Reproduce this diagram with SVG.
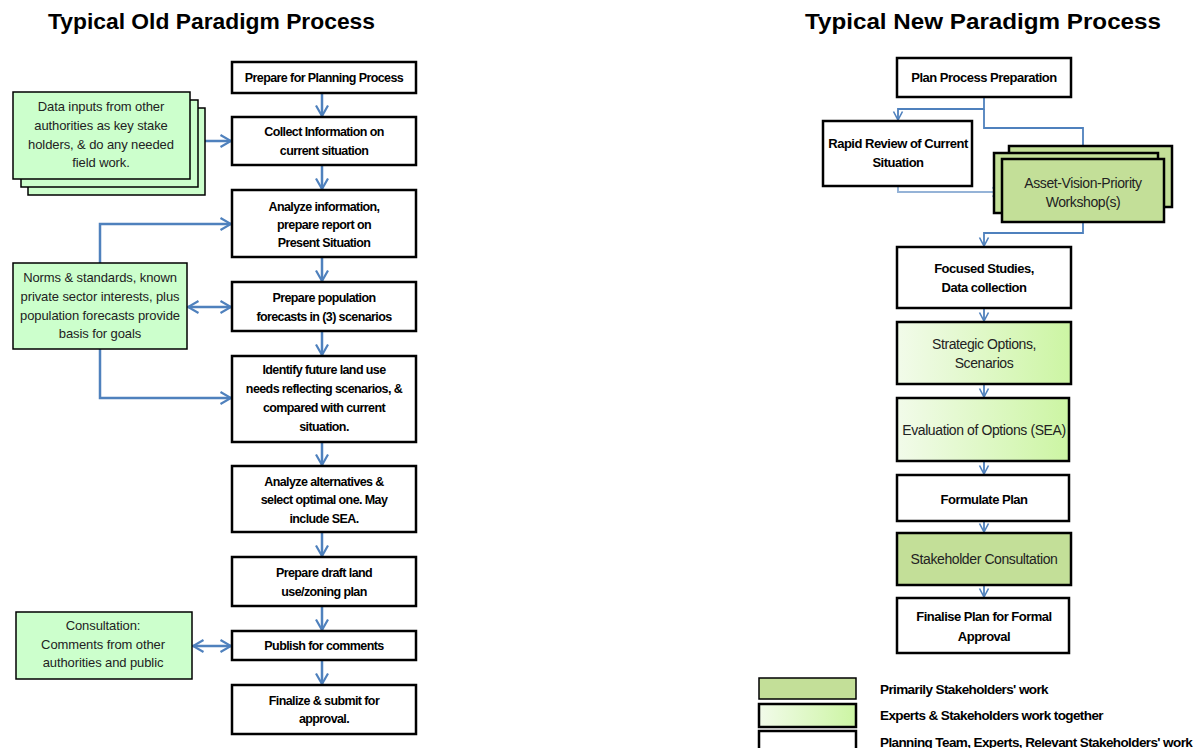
<svg xmlns="http://www.w3.org/2000/svg" width="1199" height="748" viewBox="0 0 1199 748">
<style>
.bg{fill:#ffffff}
.box{fill:#ffffff;stroke:#000000;stroke-width:2.5}
.gbox{fill:#ccffcc;stroke:#000000;stroke-width:1.5}
.mg{fill:#c3df98;stroke:#000000;stroke-width:2.5}
.grad{fill:url(#lg);stroke:#000000;stroke-width:2.5}
.title{font-family:"Liberation Sans",Arial,sans-serif;font-weight:bold;font-size:22px;fill:#000}
.lt{font-family:"Liberation Sans",Arial,sans-serif;font-size:12.5px;fill:#000;text-anchor:middle;font-weight:bold;letter-spacing:-0.6px}
.lg{font-family:"Liberation Sans",Arial,sans-serif;font-size:13px;fill:#222;text-anchor:middle;letter-spacing:-0.1px}
.rt{font-family:"Liberation Sans",Arial,sans-serif;font-size:13px;fill:#000;text-anchor:middle;font-weight:bold;letter-spacing:-0.5px}
.rg{font-family:"Liberation Sans",Arial,sans-serif;font-size:14px;fill:#222;text-anchor:middle;letter-spacing:-0.4px}
.leg{font-family:"Liberation Sans",Arial,sans-serif;font-size:13.5px;fill:#000;font-weight:bold;letter-spacing:-0.6px}
.c{fill:none;stroke:#4f81bd;stroke-width:2.5}
.c2{fill:none;stroke:#4f81bd;stroke-width:1.8}
.c3{fill:none;stroke:#95b3d7;stroke-width:2}
</style>
<defs>
<linearGradient id="lg" x1="0" y1="0" x2="1" y2="0">
<stop offset="0" stop-color="#f2fbea"/>
<stop offset="1" stop-color="#ccf5a3"/>
</linearGradient>
<marker id="ah" markerWidth="14" markerHeight="14" refX="12" refY="7" orient="auto-start-reverse" markerUnits="userSpaceOnUse">
<path d="M1.5,1 L12,7 L1.5,13" fill="none" stroke="#4f81bd" stroke-width="2.2"/>
</marker>
<marker id="ah2" markerWidth="12" markerHeight="12" refX="10" refY="6" orient="auto-start-reverse" markerUnits="userSpaceOnUse">
<path d="M1.5,1.5 L10,6 L1.5,10.5" fill="none" stroke="#4f81bd" stroke-width="1.6"/>
</marker>
</defs>
<rect class="bg" x="0" y="0" width="1199" height="748"/>

<text class="title" x="48" y="29" textLength="327" lengthAdjust="spacingAndGlyphs">Typical Old Paradigm Process</text>
<text class="title" x="805" y="29" textLength="356" lengthAdjust="spacingAndGlyphs">Typical New Paradigm Process</text>

<g id="connectors">
<line class="c" x1="322" y1="93" x2="322" y2="116" marker-end="url(#ah)"/>
<line class="c" x1="322" y1="165" x2="322" y2="189" marker-end="url(#ah)"/>
<line class="c" x1="322" y1="257" x2="322" y2="281" marker-end="url(#ah)"/>
<line class="c" x1="322" y1="331" x2="322" y2="355" marker-end="url(#ah)"/>
<line class="c" x1="322" y1="442" x2="322" y2="465" marker-end="url(#ah)"/>
<line class="c" x1="322" y1="532" x2="322" y2="556" marker-end="url(#ah)"/>
<line class="c" x1="322" y1="606" x2="322" y2="630" marker-end="url(#ah)"/>
<line class="c" x1="322" y1="660" x2="322" y2="684" marker-end="url(#ah)"/>
<line class="c" x1="197" y1="141" x2="231" y2="141" marker-end="url(#ah)"/>
<polyline class="c" points="100,263 100,224 231,224" marker-end="url(#ah)"/>
<polyline class="c" points="100,349 100,398 231,398" marker-end="url(#ah)"/>
<line class="c" x1="188" y1="307" x2="231" y2="307" marker-start="url(#ah)" marker-end="url(#ah)"/>
<line class="c" x1="193" y1="646" x2="231" y2="646" marker-start="url(#ah)" marker-end="url(#ah)"/>

<polyline class="c2" points="984,97 984,109 898,109 898,120" marker-end="url(#ah2)"/>
<polyline class="c2" points="984,109 984,128 1083,128 1083,158" marker-end="url(#ah2)"/>
<polyline class="c3" points="898,186 898,192 1001,192" marker-end="url(#ah2)"/>
<polyline class="c2" points="1083,222 1083,233 984,233 984,246" marker-end="url(#ah2)"/>
<line class="c2" x1="984" y1="308" x2="984" y2="321" marker-end="url(#ah2)"/>
<line class="c2" x1="984" y1="384" x2="984" y2="397" marker-end="url(#ah2)"/>
<line class="c2" x1="984" y1="461" x2="984" y2="474" marker-end="url(#ah2)"/>
<line class="c2" x1="984" y1="521" x2="984" y2="532" marker-end="url(#ah2)"/>
<line class="c2" x1="984" y1="585" x2="984" y2="597" marker-end="url(#ah2)"/>
</g>

<g id="old1"><rect class="box" x="232" y="62" width="184" height="31"/>
<text class="lt" x="324" y="82">Prepare for Planning Process</text></g>
<g id="old2"><rect class="box" x="232" y="117" width="184" height="48"/>
<text class="lt" x="324" y="136">Collect Information on</text><text class="lt" x="324" y="155">current situation</text></g>
<g id="old3"><rect class="box" x="232" y="190" width="184" height="67"/>
<text class="lt" x="324" y="211">Analyze information,</text><text class="lt" x="324" y="229">prepare report on</text><text class="lt" x="324" y="247">Present Situation</text></g>
<g id="old4"><rect class="box" x="232" y="282" width="184" height="49"/>
<text class="lt" x="324" y="302">Prepare population</text><text class="lt" x="324" y="321">forecasts in (3) scenarios</text></g>
<g id="old5"><rect class="box" x="232" y="356" width="184" height="86"/>
<text class="lt" x="324" y="374">Identify future land use</text><text class="lt" x="324" y="393">needs reflecting scenarios, &amp;</text><text class="lt" x="324" y="412">compared with current</text><text class="lt" x="324" y="431">situation.</text></g>
<g id="old6"><rect class="box" x="232" y="466" width="184" height="66"/>
<text class="lt" x="324" y="486">Analyze alternatives &amp;</text><text class="lt" x="324" y="504">select optimal one. May</text><text class="lt" x="324" y="523">include SEA.</text></g>
<g id="old7"><rect class="box" x="232" y="557" width="184" height="49"/>
<text class="lt" x="324" y="577">Prepare draft land</text><text class="lt" x="324" y="596">use/zoning plan</text></g>
<g id="old8"><rect class="box" x="232" y="631" width="184" height="29"/>
<text class="lt" x="324" y="650">Publish for comments</text></g>
<g id="old9"><rect class="box" x="232" y="685" width="184" height="49"/>
<text class="lt" x="324" y="705">Finalize &amp; submit for</text><text class="lt" x="324" y="723">approval.</text></g>

<g id="data-inputs">
<rect class="gbox" x="28" y="108" width="177" height="87"/>
<rect class="gbox" x="21" y="100" width="177" height="87"/>
<rect class="gbox" x="13" y="92" width="177" height="87"/>
<text class="lg" x="101" y="111">Data inputs from other</text><text class="lg" x="101" y="130">authorities as key stake</text><text class="lg" x="101" y="149">holders, &amp; do any needed</text><text class="lg" x="101" y="167">field work.</text></g>
<g id="norms"><rect class="gbox" x="13" y="263" width="174" height="86"/>
<text class="lg" x="100" y="282">Norms &amp; standards, known</text><text class="lg" x="100" y="301">private sector interests, plus</text><text class="lg" x="100" y="320">population forecasts provide</text><text class="lg" x="100" y="338">basis for goals</text></g>
<g id="consultation"><rect class="gbox" x="16" y="612" width="176" height="67"/>
<text class="lg" x="103" y="630">Consultation:</text><text class="lg" x="103" y="649">Comments from other</text><text class="lg" x="103" y="667">authorities and public</text></g>

<g id="new1"><rect class="box" x="897" y="58" width="174" height="39"/>
<text class="rt" x="984" y="82">Plan Process Preparation</text></g>
<g id="new2"><rect class="box" x="823" y="121" width="149" height="65"/>
<text class="rt" x="898" y="148">Rapid Review of Current</text><text class="rt" x="898" y="167">Situation</text></g>
<g id="new3">
<rect class="mg" x="1009" y="146" width="163" height="61"/>
<rect class="mg" x="994" y="153" width="164" height="60"/>
<rect class="mg" x="1002" y="159" width="162" height="63"/>
<text class="rg" x="1083" y="188">Asset-Vision-Priority</text><text class="rg" x="1083" y="207">Workshop(s)</text></g>
<g id="new4"><rect class="box" x="897" y="247" width="174" height="61"/>
<text class="rt" x="984" y="273">Focused Studies,</text><text class="rt" x="984" y="292">Data collection</text></g>
<g id="new5"><rect class="grad" x="897" y="322" width="174" height="62"/>
<text class="rg" x="984" y="349">Strategic Options,</text><text class="rg" x="984" y="368">Scenarios</text></g>
<g id="new6"><rect class="grad" x="897" y="398" width="172" height="63"/>
<text class="rg" x="984" y="435">Evaluation of Options (SEA)</text></g>
<g id="new7"><rect class="box" x="897" y="475" width="172" height="46"/>
<text class="rt" x="984" y="504">Formulate Plan</text></g>
<g id="new8"><rect class="mg" x="897" y="533" width="174" height="52"/>
<text class="rg" x="984" y="564">Stakeholder Consultation</text></g>
<g id="new9"><rect class="box" x="897" y="598" width="172" height="55"/>
<text class="rt" x="984" y="621">Finalise Plan for Formal</text><text class="rt" x="984" y="641">Approval</text></g>

<g id="legend">
<rect class="mg" x="759" y="678" width="97" height="21" style="stroke-width:1.5"/>
<rect class="grad" x="759" y="704" width="97" height="23"/>
<rect class="box" x="759" y="731" width="97" height="25"/>
<text class="leg" x="880" y="694">Primarily Stakeholders' work</text>
<text class="leg" x="880" y="720">Experts &amp; Stakeholders work together</text>
<text class="leg" x="880" y="747">Planning Team, Experts, Relevant Stakeholders' work</text>
</g>
</svg>
